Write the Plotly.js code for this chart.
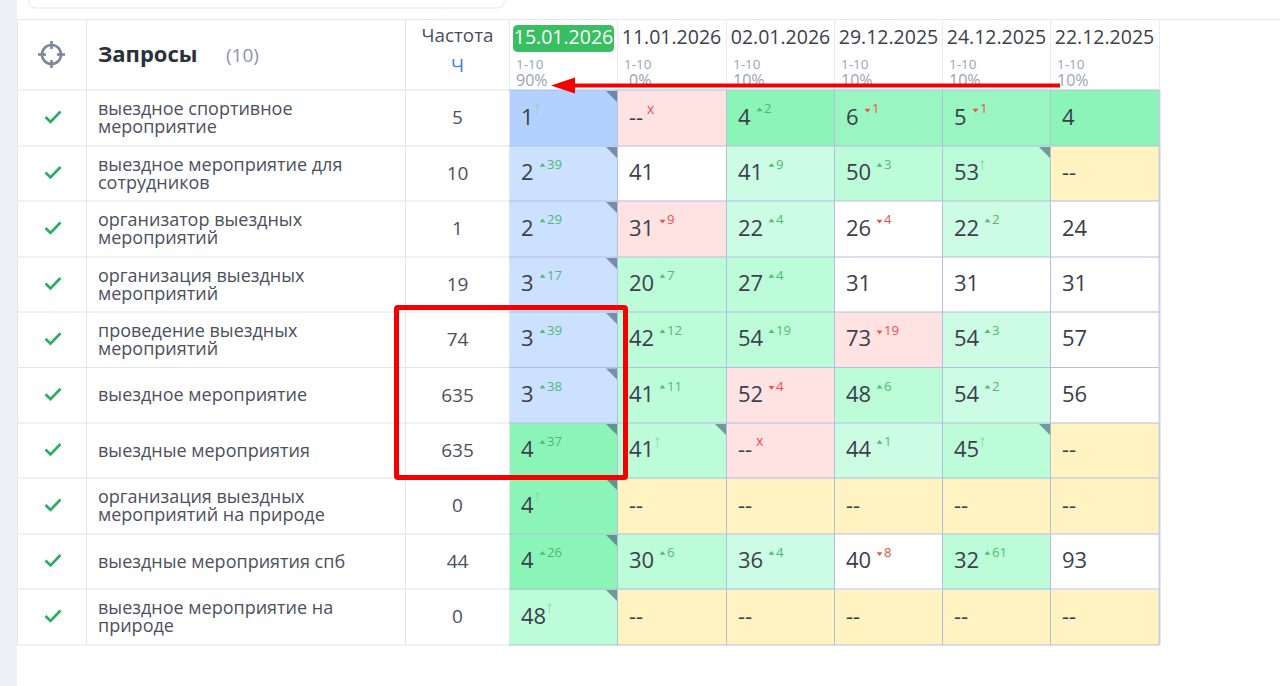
<!DOCTYPE html>
<html><head><meta charset="utf-8">
<script src="https://cdn.plot.ly/plotly-3.0.1.min.js"></script>
<style>html,body{margin:0;padding:0;background:#fff;overflow:hidden}#c{width:1280px;height:686px}</style>
</head><body><div id="c"></div>
<script>
const queries = [
  ["выездное спортивное","мероприятие"],
  ["выездное мероприятие для","сотрудников"],
  ["организатор выездных","мероприятий"],
  ["организация выездных","мероприятий"],
  ["проведение выездных","мероприятий"],
  ["выездное мероприятие"],
  ["выездные мероприятия"],
  ["организация выездных","мероприятий на природе"],
  ["выездные мероприятия спб"],
  ["выездное мероприятие на","природе"]
];
const frequency = [5,10,1,19,74,635,635,0,44,0];
const dates = ["15.01.2026","11.01.2026","02.01.2026","29.12.2025","24.12.2025","22.12.2025"];
const topRange = ["1-10","1-10","1-10","1-10","1-10","1-10"];
const topShare = ["90%","0%","10%","10%","10%","10%"];
const ranks = [
  ["1","--","4","6","5","4"],
  ["2","41","41","50","53","--"],
  ["2","31","22","26","22","24"],
  ["3","20","27","31","31","31"],
  ["3","42","54","73","54","57"],
  ["3","41","52","48","54","56"],
  ["4","41","--","44","45","--"],
  ["4","--","--","--","--","--"],
  ["4","30","36","40","32","93"],
  ["48","--","--","--","--","--"]
];
const deltas = [
  ["↑","x",2,-1,-1,""],
  [39,"",9,3,"↑",""],
  [29,-9,4,-4,2,""],
  [17,7,4,"","",""],
  [39,12,19,-19,3,""],
  [38,11,-4,6,2,""],
  [37,"↑","x",1,"↑",""],
  ["↑","","","","",""],
  [26,6,4,-8,61,""],
  ["↑","","","","",""]
];
// 0 white, 1 strong blue, 2 blue, 3 strong green, 4 green, 5 mid green, 6 light green, 7 pink, 8 yellow
const cellClass = [
  [1,7,3,4,4,3],
  [2,0,6,5,5,8],
  [2,7,6,0,6,0],
  [2,5,5,0,0,0],
  [2,5,5,7,6,0],
  [2,5,7,5,6,0],
  [3,5,7,6,5,8],
  [3,8,8,8,8,8],
  [3,5,6,0,5,0],
  [5,8,8,8,8,8]
];
const flagged = [
  [1,0,0,0,0,0],
  [1,0,0,0,1,0],
  [1,0,0,0,0,0],
  [1,0,0,0,0,0],
  [1,0,0,0,0,0],
  [1,0,0,0,0,0],
  [1,1,0,0,1,0],
  [1,0,0,0,0,0],
  [1,0,0,0,0,0],
  [1,0,0,0,0,0]
];
const palette = ["#ffffff","#b3d1ff","#cce0ff","#8bf5b7","#99f6c1","#bdfcd9","#ccfde4","#ffe3e3","#fff3c2"];

const colEdges = [509,617,726,834,942,1050,1159];
const rowEdges = [90,146,201,257,312,367.5,423,478,534,589,645];
const tableCols = [17,86,405,509];
const FONT = "Open Sans";
const INK = "#3b404c", LABEL = "#4b505c", GREY = "#9aa3b4", UP = "#4cbb73", DOWN = "#f44b4b", ARROW = "#7fd9a4";
const rowMid = i => (rowEdges[i]+rowEdges[i+1])/2;

function txt(xs, ys, ts, size, color, pos, weight){
  return {type:"scatter",mode:"text",x:xs,y:ys,text:ts,textposition:pos||"middle right",
    textfont:{family:FONT,size:size,color:color,weight:weight||400},hoverinfo:"skip",cliponaxis:false,showlegend:false};
}
const traces = [];
const n = palette.length;
const cs = [];
palette.forEach((c,i)=>{cs.push([i/n,c]);cs.push([(i+1)/n,c]);});
traces.push({type:"heatmap",x:colEdges,y:rowEdges,z:cellClass,zmin:-0.5,zmax:n-0.5,zsmooth:false,colorscale:cs,showscale:false,hoverinfo:"skip"});

// query labels, frequency
let lx=[],ly=[],lt=[];
queries.forEach((q,i)=>{
  q.forEach((s,k)=>{lx.push(98);ly.push(rowMid(i)+(q.length===1?0:(k===0?-9:9))+1.5);lt.push(s);});
});
traces.push(txt(lx,ly,lt,18,LABEL));
traces.push(txt(frequency.map(()=>457.5),frequency.map((_,i)=>rowMid(i)+1.5),frequency.map(String),19,LABEL,"middle center"));

// ranks and change marks
let nx=[],ny=[],nt=[], ux=[],uy=[],ut=[], dx=[],dy=[],dt=[], ax=[],ay=[],at=[], cx=[],cy=[],ct=[], tux=[],tuy=[],tdx=[],tdy=[];
ranks.forEach((row,i)=>row.forEach((r,j)=>{
  const left = colEdges[j]+12;
  const y = rowMid(i)+1;
  nx.push(left);ny.push(y);nt.push(r);
  const d = deltas[i][j];
  const w = r==="--"?20:(r.length===1?13:25);
  const ys = y-9;
  if(d==="↑"){ax.push(left+w-1);ay.push(ys);at.push("↑");}
  else if(d==="x"){cx.push(left+18);cy.push(ys);ct.push("x");}
  else if(typeof d==="number"){
    const tri = left+w+8.5, lab = left+w+13;
    if(d>0){tux.push(tri);tuy.push(ys);ux.push(lab);uy.push(ys);ut.push(String(d));}
    else{tdx.push(tri);tdy.push(ys);dx.push(lab);dy.push(ys);dt.push(String(-d));}
  }
}));
traces.push(txt(nx,ny,nt,22,INK));
traces.push(txt(ux,uy,ut,13.2,UP));
traces.push(txt(dx,dy,dt,13.2,DOWN));
traces.push(txt(ax,ay,at,17,ARROW));
traces.push(txt(cx,cy,ct,14,DOWN));
traces.push({type:"scatter",mode:"markers",x:tux,y:tuy,marker:{symbol:"triangle-up",size:5,color:UP},hoverinfo:"skip",showlegend:false});
traces.push({type:"scatter",mode:"markers",x:tdx,y:tdy,marker:{symbol:"triangle-down",size:5,color:DOWN},hoverinfo:"skip",showlegend:false});

// header
traces.push(txt([98],[56.5],["Запросы"],22,"#2b303b","middle right",700));
traces.push(txt([226],[57],["(10)"],19,"#8d94a6"));
traces.push(txt([457.5],[37.5],["Частота"],18.8,"#474c58","middle center"));
traces.push(txt([457.5],[67.5],["Ч"],18.8,"#3b82f6","middle center"));
const hx = colEdges.slice(0,6).map(v=>v+54.5);
traces.push(txt(hx.slice(0,1),[39],dates.slice(0,1),19.5,"#ffffff","middle center"));
traces.push(txt(hx.slice(1),hx.slice(1).map(()=>39),dates.slice(1),19.5,"#3b404c","middle center"));
traces.push(txt(colEdges.slice(0,6).map(v=>v+7),hx.map(()=>65.5),topRange,13.5,GREY));
traces.push(txt(colEdges.slice(0,6).map((v,j)=>v+(topShare[j]==="0%"?12:7)),hx.map(()=>81.5),topShare,16,GREY));

// shapes
const shapes = [];
const line = (x0,y0,x1,y1,c,w)=>shapes.push({type:"line",x0,y0,x1,y1,line:{color:c,width:w||1}});
const path = (d,fill,c,w)=>shapes.push({type:"path",path:d,fillcolor:fill||"rgba(0,0,0,0)",line:{color:c||"rgba(0,0,0,0)",width:w||0}});
shapes.push({type:"rect",x0:0,x1:17,y0:0,y1:686,fillcolor:"#eef0f5",line:{width:0},layer:"below"});
// search box bottom
path("M29,0 V2 Q29,8 36,8 H497 Q504,8 504,2 V0",null,"#e6e8ee",1);
// table rules
line(17,19.5,1280,19.5,"#e4e6ec");
rowEdges.forEach(y=>line(17,y,509,y,"#e2e4ea"));
tableCols.forEach(x=>line(x+0.5,19,x+0.5,645,"#e4e6ec"));
colEdges.forEach(x=>line(x+0.5,19,x+0.5,90,"#e9ebf0"));
rowEdges.forEach(y=>line(509,y,1159,y,"#b3bfdd"));
colEdges.slice(1,-1).forEach(x=>line(x+0.5,90,x+0.5,645,"#b3bfdd"));
line(1159.5,90,1159.5,645,"#c5cfe6",2);
// flags in cell corners
flagged.forEach((row,i)=>row.forEach((f,j)=>{
  if(!f) return;
  const r=colEdges[j+1], t=rowEdges[i]+1;
  path(`M${r-11},${t} H${r} V${t+11} Z`,"rgba(70,90,115,0.62)");
}));
// check marks
queries.forEach((_,i)=>{
  const y=rowMid(i)-1;
  path(`M45.5,${y} L50.5,${y+5} L60.5,${y-5.5}`,null,"#27ae60",2.6);
});
// target icon
shapes.push({type:"circle",x0:42,x1:61,y0:45,y1:64,line:{color:"#7d889b",width:2.6}});
line(51.5,41,51.5,49,"#7d889b",2.6); line(51.5,60,51.5,68,"#7d889b",2.6);
line(38,54.5,46,54.5,"#7d889b",2.6); line(57,54.5,65,54.5,"#7d889b",2.6);
// date badge
shapes.unshift({type:"path",layer:"below",path:"M518,25 H609 Q614,25 614,30 V47 Q614,52 609,52 H518 Q513,52 513,47 V30 Q513,25 518,25 Z",fillcolor:"#38bf62",line:{width:0}});
// red arrow and frame
line(574,85.5,1060,85.5,"#f50000",4);
path("M551,85.5 L575,77.5 L575,93.5 Z","#f50000");
path("M398,307.5 H624 Q625.5,307.5 625.5,309 V476 Q625.5,477.5 624,477.5 H398 Q396.5,477.5 396.5,476 V309 Q396.5,307.5 398,307.5 Z",null,"#f50000",5);

Plotly.newPlot("c",traces,{
  width:1280,height:686,margin:{l:0,r:0,t:0,b:0,pad:0},
  paper_bgcolor:"#ffffff",plot_bgcolor:"rgba(0,0,0,0)",showlegend:false,
  xaxis:{range:[0,1280],visible:false,fixedrange:true},
  yaxis:{range:[686,0],visible:false,fixedrange:true},
  shapes:shapes
},{displayModeBar:false,staticPlot:true});
</script></body></html>
